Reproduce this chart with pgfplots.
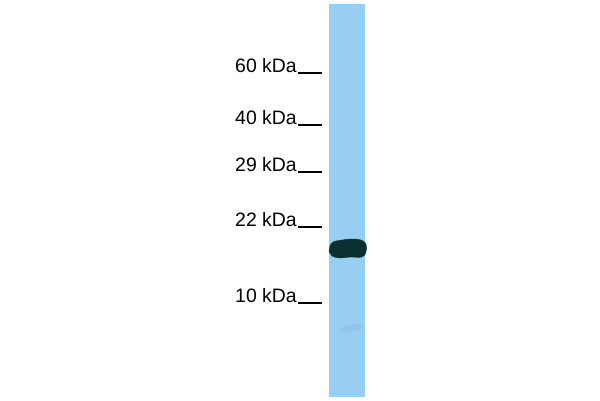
\documentclass[border=0pt]{standalone}
\usepackage{fontspec}
\setmainfont{Liberation Sans}
\usepackage{pgfplots}
\pgfplotsset{compat=1.18}
\definecolor{lane}{RGB}{152,206,241}
\definecolor{band}{RGB}{12,48,50}

\begin{document}
\begin{tikzpicture}
\begin{axis}[
    width=600bp, height=400bp,
    scale only axis,
    xmin=0, xmax=600,
    ymin=0, ymax=400,
    y dir=reverse,
    hide axis,
    clip=false,
]
% white page
\addplot[fill=white, draw=none] coordinates {(0,0) (600,0) (600,400) (0,400)} -- cycle;
% lane
\addplot[fill=lane, draw=none] coordinates {(329,4) (365,4) (365,397) (329,397)} -- cycle;
% faint lower smear
\addplot[fill=lane!80!black, draw=none, opacity=0.15, smooth] coordinates {
    (338,329) (348,325) (360,324) (362,328) (350,332) (340,333)} -- cycle;
% main band
\addplot[fill=band, draw=band, smooth, tension=0.6] coordinates {
    (330,246) (333,242) (342,240) (352,239) (361,240) (366,244) (366,252)
    (362,257) (350,257) (340,258) (332,256) (329,251)} -- cycle;
% marker dashes
\addplot[black, line width=1.2pt, forget plot] coordinates {(298,73) (322,73)};
\addplot[black, line width=1.2pt, forget plot] coordinates {(298,125) (322,125)};
\addplot[black, line width=1.2pt, forget plot] coordinates {(298,172) (322,172)};
\addplot[black, line width=1.2pt, forget plot] coordinates {(298,227) (322,227)};
\addplot[black, line width=1.2pt, forget plot] coordinates {(298,303) (322,303)};
% marker labels
\node[anchor=base east, inner sep=0pt, font=\fontsize{19.5}{21}\selectfont] at (axis cs:297,72) {60 kDa};
\node[anchor=base east, inner sep=0pt, font=\fontsize{19.5}{21}\selectfont] at (axis cs:297,124) {40 kDa};
\node[anchor=base east, inner sep=0pt, font=\fontsize{19.5}{21}\selectfont] at (axis cs:297,171) {29 kDa};
\node[anchor=base east, inner sep=0pt, font=\fontsize{19.5}{21}\selectfont] at (axis cs:297,226) {22 kDa};
\node[anchor=base east, inner sep=0pt, font=\fontsize{19.5}{21}\selectfont] at (axis cs:297,302) {10 kDa};
\end{axis}
\end{tikzpicture}
\end{document}
